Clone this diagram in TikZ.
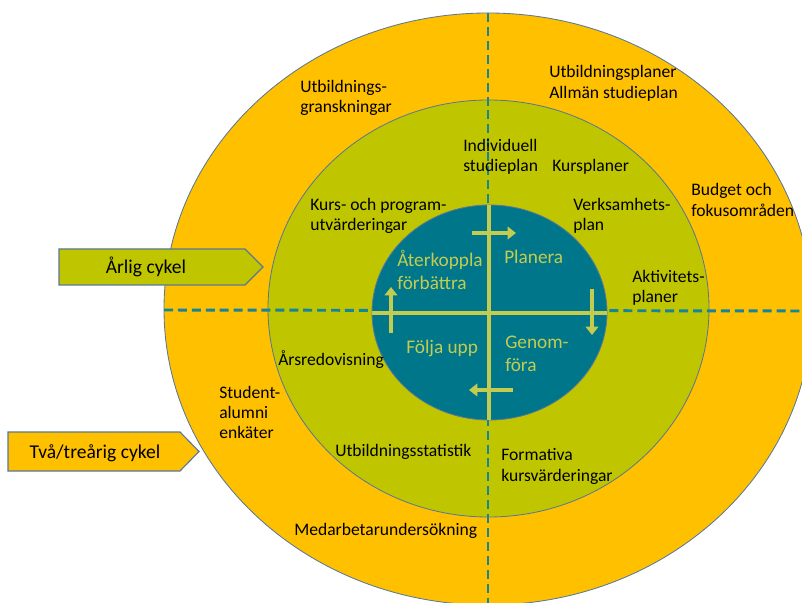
\documentclass[tikz,border=0pt]{standalone}
\usepackage{fontspec}
\setmainfont{Carlito}
\usetikzlibrary{arrows.meta}

\definecolor{ringorange}{HTML}{FFC000}
\definecolor{ringgreen}{HTML}{BFC600}
\definecolor{hubteal}{HTML}{00768A}
\definecolor{hublight}{HTML}{C4CC50}
\definecolor{dashteal}{HTML}{16849A}
\definecolor{rimblue}{HTML}{5A7896}

\begin{document}
\begin{tikzpicture}[x=0.025cm, y=-0.025cm,
  ring/.style={draw=rimblue, line width=0.6pt},
  quarter/.style={dashteal, line width=2.1pt, dash pattern=on 6.4pt off 3.5pt},
  label/.style={anchor=west, align=left, inner sep=0pt, font=\fontsize{12.5}{14.5}\selectfont},
  hublabel/.style={anchor=west, align=left, inner sep=0pt, text=hublight, font=\fontsize{13.7}{16.5}\selectfont},
  turn/.style={hublight, line width=3.5pt, -{Triangle[length=6pt,width=9pt]}},
  cyclebox/.style={draw=rimblue, line width=0.8pt}]
\useasboundingbox (0,0) rectangle (802,603);
\clip (0,0) rectangle (802,603);

\fill [white] (0,0) rectangle (802,603);
\draw [ring, fill=ringorange] (488,309) ellipse [x radius=324, y radius=296];
\draw [ring, fill=ringgreen] (488.5,308.5) ellipse [x radius=220.5, y radius=208.5];
\draw [quarter] (164,310) -- (802,311);
\draw [quarter] (488,13) -- (488,603);
\draw [ring, fill=hubteal] (489.5,312.5) ellipse [x radius=117.5, y radius=107.5];

% the cycle in the middle
\draw [hublight, line width=3.5pt] (372,313) -- (607,313);
\draw [hublight, line width=3.5pt] (489,205) -- (489,420);
\draw [turn] (472,233) -- (516,233);
\draw [turn] (592,289) -- (592,335);
\draw [turn] (513,390) -- (469,390);
\draw [turn] (391,333) -- (391,287);

\node [hublabel] (aterkoppla) at (397,270) {Återkoppla\\förbättra};
\node [hublabel] (planera) at (504,257) {Planera};
\node [hublabel] (folja) at (406,348) {Följa upp};
\node [hublabel] (genomfora) at (505,353.5) {Genom-\\föra};

% inner ring
\node [label] (individuell) at (463,157) {Individuell\\studieplan};
\node [label] (kursplaner) at (552,167) {Kursplaner};
\node [label] (utvardering) at (310,216) {Kurs- och program-\\utvärderingar};
\node [label] (verksamhet) at (573,216) {Verksamhets-\\plan};
\node [label] (aktivitet) at (632,288) {Aktivitets-\\planer};
\node [label] (arsredovisning) at (278,360) {Årsredovisning};
\node [label] (statistik) at (335,452) {Utbildningsstatistik};
\node [label] (formativa) at (501,466.5) {Formativa\\kursvärderingar};

% outer ring
\node [label] (granskning) at (300,98) {Utbildnings-\\granskningar};
\node [label] (studieplaner) at (549,83.5) {Utbildningsplaner\\Allmän studieplan};
\node [label] (budget) at (691,200) {Budget och\\fokusområden};
\node [label] (enkater) at (219,412.5) {Student-\\alumni\\enkäter};
\node [label] (medarbetare) at (294,531) {Medarbetarundersökning};

% cycle boxes
\draw [cyclebox, fill=ringgreen] (59,249) -- (245,249) -- (263,267) -- (245,285) -- (59,285) -- cycle;
\node [font=\fontsize{13.9}{16}\selectfont, inner sep=0pt] (arlig) at (146,267) {Årlig cykel};
\draw [cyclebox, fill=ringorange] (8,432) -- (180,432) -- (199,451.5) -- (180,471) -- (8,471) -- cycle;
\node [font=\fontsize{13.9}{16}\selectfont, inner sep=0pt] (tvatrearig) at (95,453) {Två/treårig cykel};

\end{tikzpicture}
\end{document}
